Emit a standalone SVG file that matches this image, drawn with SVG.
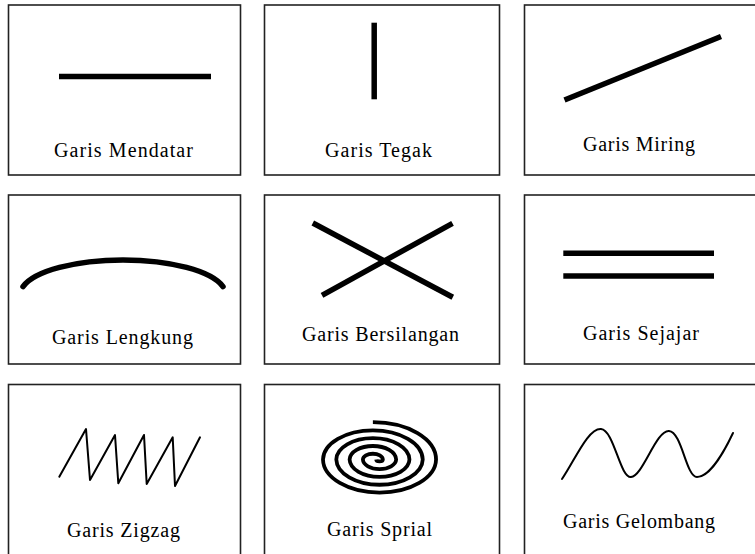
<svg xmlns="http://www.w3.org/2000/svg" width="755" height="554" viewBox="0 0 755 554">
<style>
.box{fill:#fff;stroke:#222;stroke-width:1.6}
.thick{fill:none;stroke:#000;stroke-width:5.5}
.thin{fill:none;stroke:#000;stroke-width:2;stroke-linejoin:round;stroke-linecap:round}
.label{font-family:"Liberation Serif","Times New Roman",serif;font-size:20px;fill:#000}
</style>
<rect x="0" y="0" width="755" height="554" fill="#fff"/>
<g id="mendatar">
<rect class="box" x="8.5" y="5" width="232" height="170"/>
<line class="thick" x1="59" y1="76.5" x2="211" y2="76.5"/>
<text class="label" x="54" y="157" textLength="139" lengthAdjust="spacing">Garis Mendatar</text>
</g>
<g id="tegak">
<rect class="box" x="264.5" y="5" width="235" height="170"/>
<line class="thick" x1="374.2" y1="22.7" x2="374.2" y2="99.3"/>
<text class="label" x="325" y="157" textLength="107" lengthAdjust="spacing">Garis Tegak</text>
</g>
<g id="miring">
<rect class="box" x="524.5" y="5" width="240" height="170"/>
<line class="thick" x1="564.5" y1="100" x2="721" y2="36.5"/>
<text class="label" x="583" y="151" textLength="112" lengthAdjust="spacing">Garis Miring</text>
</g>
<g id="lengkung">
<rect class="box" x="8.5" y="195" width="232" height="169"/>
<path class="thick" stroke-linecap="round" d="M 23 286.6 A 103 35 0 0 1 223 286.6"/>
<text class="label" x="52" y="344" textLength="141" lengthAdjust="spacing">Garis Lengkung</text>
</g>
<g id="bersilangan">
<rect class="box" x="264.5" y="195" width="235" height="169"/>
<line class="thick" x1="312.8" y1="223" x2="452.8" y2="297.3"/>
<line class="thick" x1="322" y1="295.3" x2="452.5" y2="223.3"/>
<text class="label" x="302" y="341" textLength="157" lengthAdjust="spacing">Garis Bersilangan</text>
</g>
<g id="sejajar">
<rect class="box" x="524.5" y="195" width="240" height="169"/>
<line class="thick" x1="563.3" y1="253.3" x2="714" y2="253.3"/>
<line class="thick" x1="563.3" y1="276" x2="714" y2="276"/>
<text class="label" x="583" y="340" textLength="116" lengthAdjust="spacing">Garis Sejajar</text>
</g>
<g id="zigzag">
<rect class="box" x="8.5" y="384.5" width="232" height="200"/>
<polyline class="thin" points="59.3,476.7 86,429 90,480 115,435 118.3,483.3 144,435 146.7,484 172.7,437.3 175,486 200,437.3"/>
<text class="label" x="67" y="537" textLength="113" lengthAdjust="spacing">Garis Zigzag</text>
</g>
<g id="spiral">
<rect class="box" x="264.5" y="384.5" width="235" height="200"/>
<path fill="none" stroke="#000" stroke-width="3.8" d="M 376.2 459.5 A 3.33 1.97 0 0 0 382.85 459.5 A 9.98 5.92 0 0 0 362.9 459.5 A 16.63 9.86 0 0 0 396.15 459.5 A 23.28 13.8 0 0 0 349.6 459.5 A 29.93 17.75 0 0 0 409.45 459.5 A 36.58 21.69 0 0 0 336.3 459.5 A 43.23 25.63 0 0 0 422.75 459.5 A 49.88 29.58 0 0 0 323 459.5 A 56.53 33.52 0 0 0 436.05 459.5 A 63.18 37.46 0 0 0 372.88 422.04"/>
<text class="label" x="327" y="536" textLength="105" lengthAdjust="spacing">Garis Sprial</text>
</g>
<g id="gelombang">
<rect class="box" x="524.5" y="384.5" width="240" height="200"/>
<path class="thin" d="M 562 479 C 575 460, 588 428, 601 429 C 614 430, 620 478, 631 477 C 643 476, 656 430, 669 431 C 682 432, 686 477, 697 477 C 710 477, 725 450, 733 433"/>
<text class="label" x="563" y="528" textLength="152" lengthAdjust="spacing">Garis Gelombang</text>
</g>
<g id="connectors"></g>
</svg>
